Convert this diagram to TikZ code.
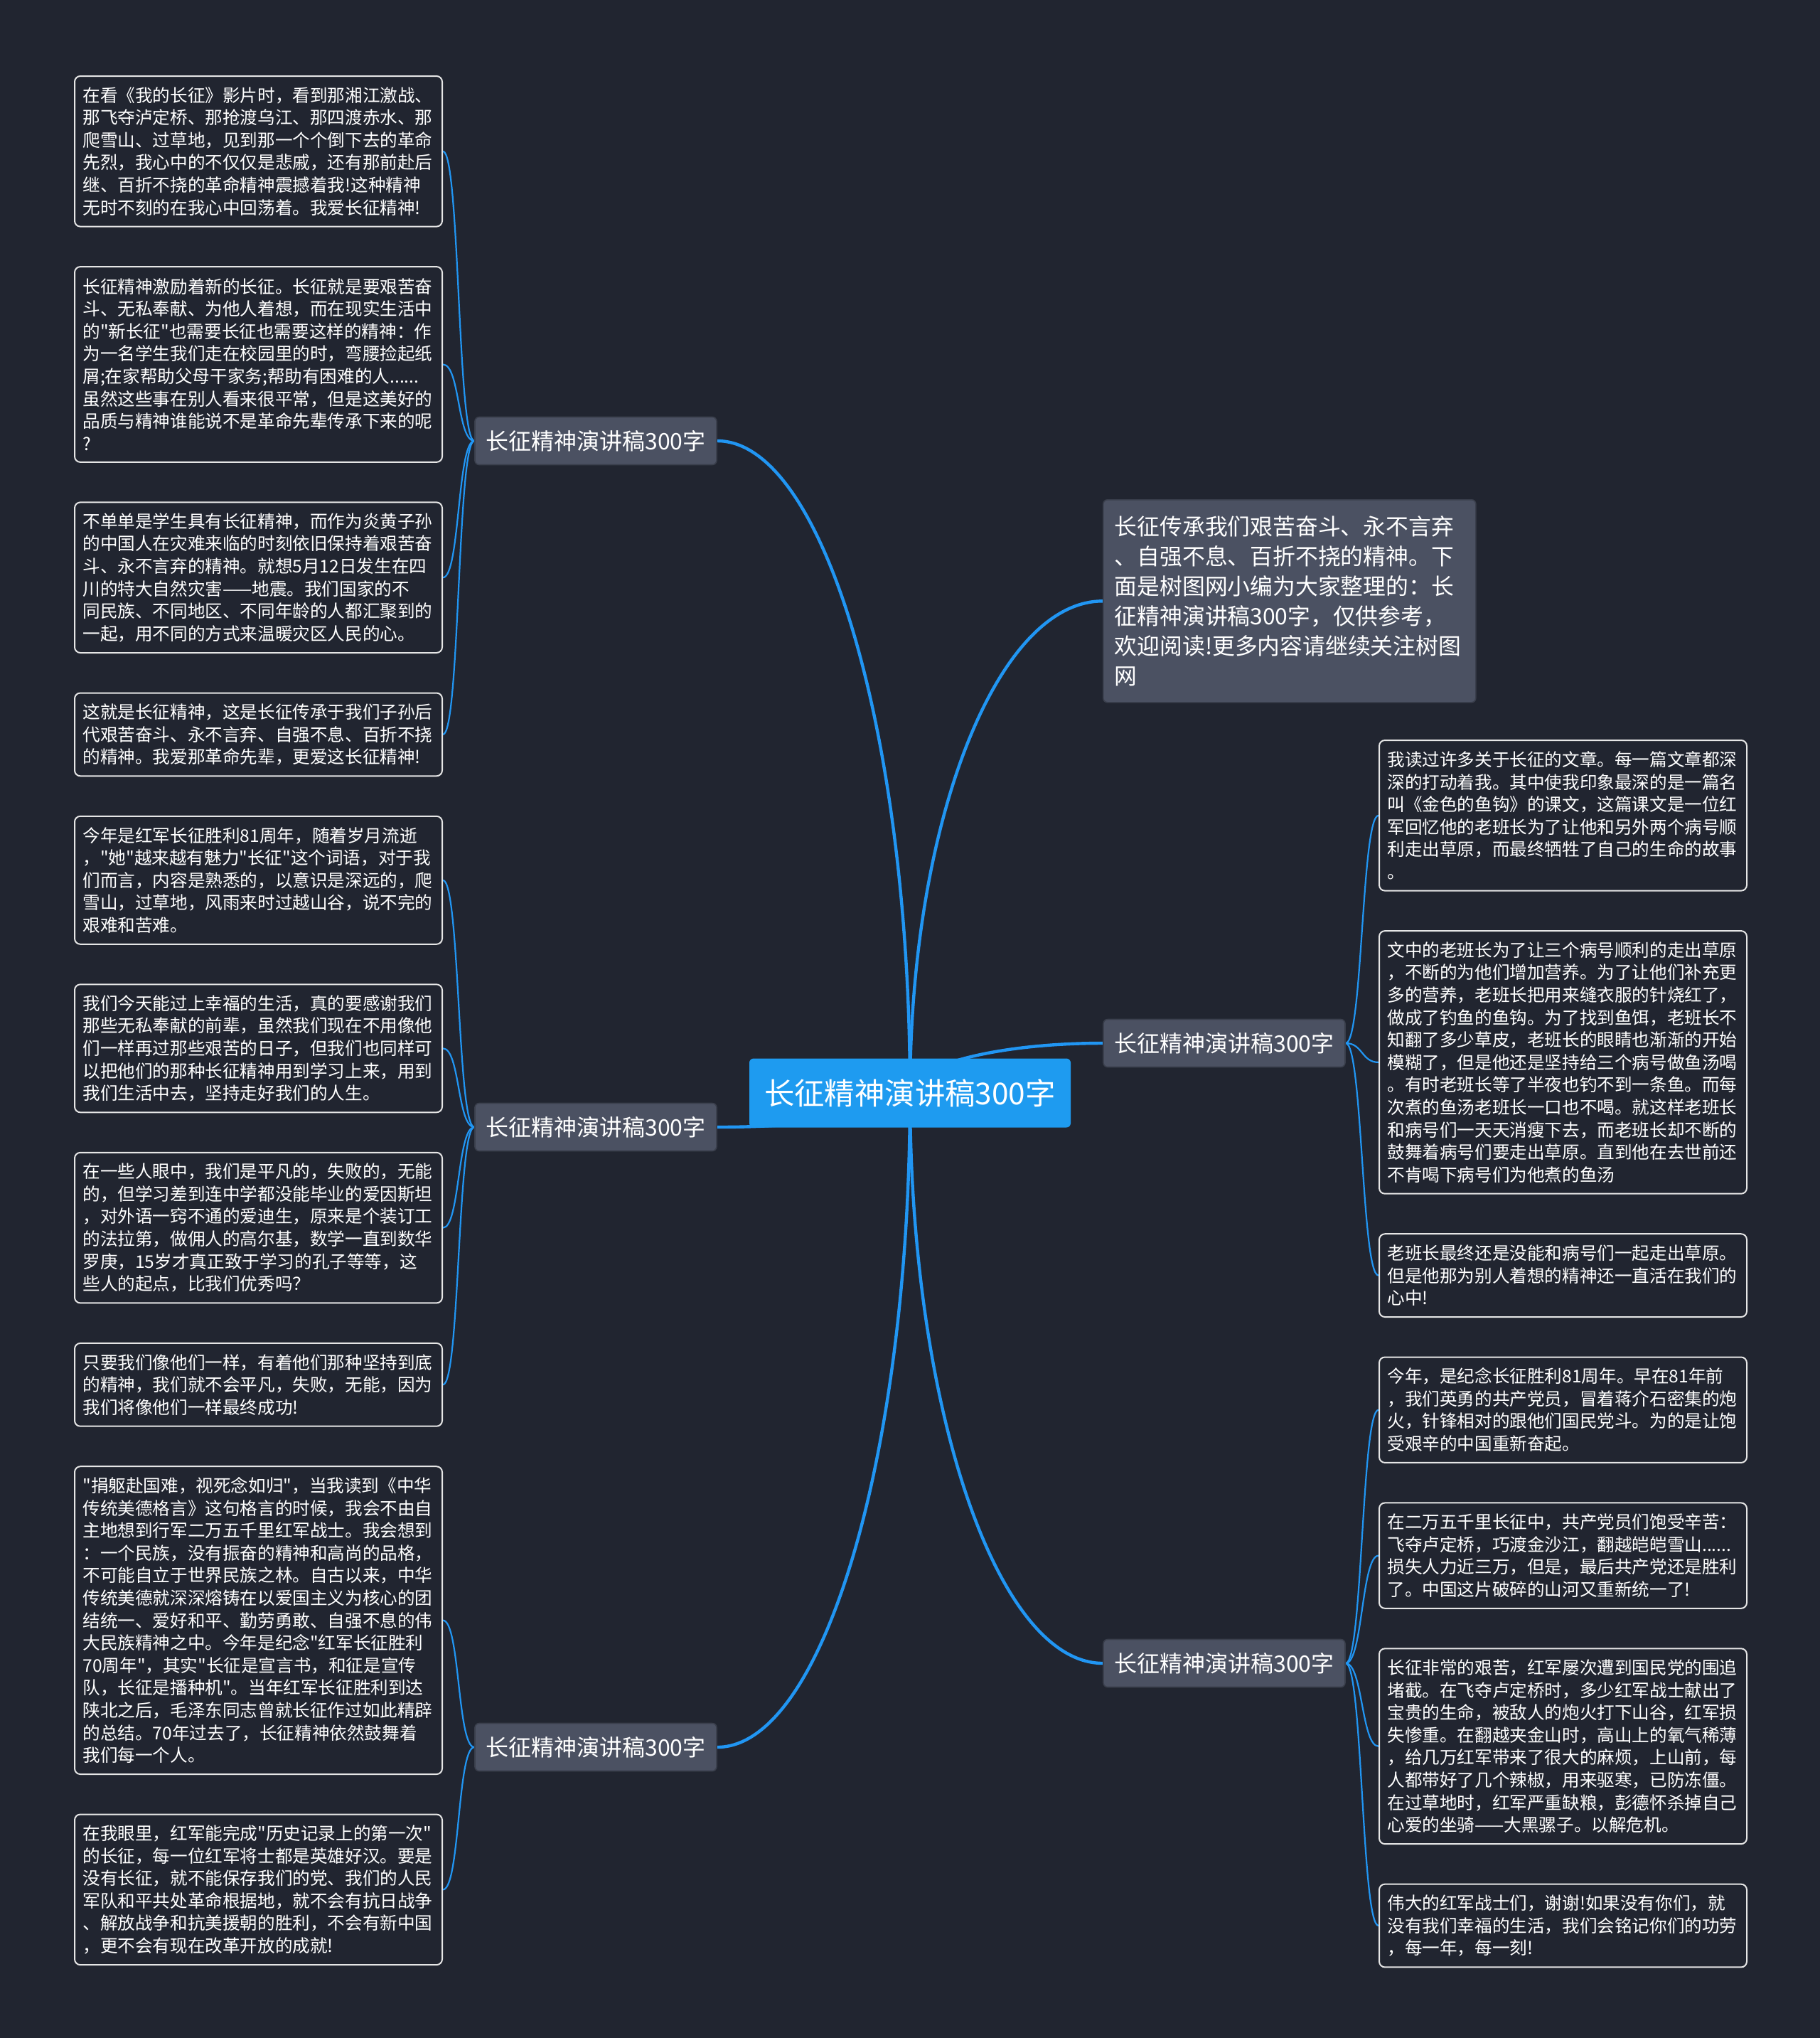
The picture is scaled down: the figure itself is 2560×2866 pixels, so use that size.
\documentclass[tikz,border=0pt]{standalone}
\usepackage{fontspec}
\setmainfont{Noto Sans CJK SC}[Ligatures=TeXOff]
\usetikzlibrary{positioning,calc}
\definecolor{canvasbg}{HTML}{212530}
\definecolor{linkblue}{HTML}{2196F3}
\definecolor{rootblue}{HTML}{1E9BF0}
\definecolor{branchgray}{HTML}{4B5162}
\definecolor{branchline}{HTML}{3A3F4C}
\definecolor{leafline}{HTML}{E6E6E6}
\pgfdeclarelayer{canvas}
\pgfdeclarelayer{links}
\pgfsetlayers{canvas,links,main}
\begin{document}
\begin{tikzpicture}[x=0.5pt,y=-0.5pt]
	\tikzset{rootnode/.style = {fill=rootblue,text=white,rounded corners=3pt,minimum width=226pt,minimum height=48.5pt,font=\fontsize{21.2pt}{26pt}\selectfont}}
	\tikzset{branch/.style = {fill=branchgray,draw=branchline,line width=0.8pt,text=white,rounded corners=3pt,minimum width=170pt,minimum height=33.5pt,font=\fontsize{16pt}{20pt}\selectfont}}
	\tikzset{infobox/.style = {fill=branchgray,draw=branchline,line width=0.8pt,text=white,rounded corners=3pt,align=left,text width=246pt,inner xsep=8pt,minimum height=142.5pt,anchor=north west,font=\fontsize{15.9pt}{21pt}\selectfont}}
	\tikzset{leafbox/.style = {draw=leafline,fill=canvasbg,line width=1pt,rounded corners=4pt,text=white,align=left,text width=247pt,inner xsep=5.75pt,inner ysep=2pt,minimum height=#1*15.8pt+11pt,font=\fontsize{12.3pt}{15.8pt}\selectfont}}
	\tikzset{mainlink/.style = {draw=linkblue,line width=2.2pt}}
	\tikzset{leaflink/.style = {draw=linkblue,line width=1.1pt}}
	\tikzset{rootcurve/.style = {to path={.. controls ($(\tikztostart)!.55!(\tikztostart |- \tikztotarget)$) and ($(\tikztotarget)!.55!(\tikztostart |- \tikztotarget)$) .. (\tikztotarget)}}}
	\tikzset{toleft/.style = {out=180,in=0,distance=12pt}}
	\tikzset{toright/.style = {out=0,in=180,distance=12pt}}
	\begin{pgfonlayer}{canvas}
		\fill[canvasbg] (0,0) rectangle (2560,2866);
	\end{pgfonlayer}
	\node[rootnode] (root) at (1280,1537) {长征精神演讲稿300字};
	\node[branch] (lb1) at (838,620) {长征精神演讲稿300字};
	\node[branch] (lb2) at (838,1585) {长征精神演讲稿300字};
	\node[branch] (lb3) at (838,2457) {长征精神演讲稿300字};
	\node[branch] (rb1) at (1722,1467) {长征精神演讲稿300字};
	\node[branch] (rb2) at (1722,2339) {长征精神演讲稿300字};
	\node[infobox] (info) at (1551,702) {长征传承我们艰苦奋斗、永不言弃\\、自强不息、百折不挠的精神。下\\面是树图网小编为大家整理的：长\\征精神演讲稿300字，仅供参考，\\欢迎阅读!更多内容请继续关注树图\\网};
	\node[leafbox=6,anchor=north west] (l1) at (104,106) {在看《我的长征》影片时，看到那湘江激战、\\那飞夺泸定桥、那抢渡乌江、那四渡赤水、那\\爬雪山、过草地，见到那一个个倒下去的革命\\先烈，我心中的不仅仅是悲戚，还有那前赴后\\继、百折不挠的革命精神震撼着我!这种精神\\无时不刻的在我心中回荡着。我爱长征精神!};
	\node[leafbox=8,below=27.25pt of l1] (l2) {长征精神激励着新的长征。长征就是要艰苦奋\\斗、无私奉献、为他人着想，而在现实生活中\\的"新长征"也需要长征也需要这样的精神：作\\为一名学生我们走在校园里的时，弯腰捡起纸\\屑;在家帮助父母干家务;帮助有困难的人......\\虽然这些事在别人看来很平常，但是这美好的\\品质与精神谁能说不是革命先辈传承下来的呢\\?};
	\node[leafbox=6,below=27.25pt of l2] (l3) {不单单是学生具有长征精神，而作为炎黄子孙\\的中国人在灾难来临的时刻依旧保持着艰苦奋\\斗、永不言弃的精神。就想5月12日发生在四\\川的特大自然灾害——地震。我们国家的不\\同民族、不同地区、不同年龄的人都汇聚到的\\一起，用不同的方式来温暖灾区人民的心。};
	\node[leafbox=3,below=27.25pt of l3] (l4) {这就是长征精神，这是长征传承于我们子孙后\\代艰苦奋斗、永不言弃、自强不息、百折不挠\\的精神。我爱那革命先辈，更爱这长征精神!};
	\node[leafbox=5,below=27.25pt of l4] (l5) {今年是红军长征胜利81周年，随着岁月流逝\\，"她"越来越有魅力"长征"这个词语，对于我\\们而言，内容是熟悉的，以意识是深远的，爬\\雪山，过草地，风雨来时过越山谷，说不完的\\艰难和苦难。};
	\node[leafbox=5,below=27.25pt of l5] (l6) {我们今天能过上幸福的生活，真的要感谢我们\\那些无私奉献的前辈，虽然我们现在不用像他\\们一样再过那些艰苦的日子，但我们也同样可\\以把他们的那种长征精神用到学习上来，用到\\我们生活中去，坚持走好我们的人生。};
	\node[leafbox=6,below=27.25pt of l6] (l7) {在一些人眼中，我们是平凡的，失败的，无能\\的，但学习差到连中学都没能毕业的爱因斯坦\\，对外语一窍不通的爱迪生，原来是个装订工\\的法拉第，做佣人的高尔基，数学一直到数华\\罗庚，15岁才真正致于学习的孔子等等，这\\些人的起点，比我们优秀吗？};
	\node[leafbox=3,below=27.25pt of l7] (l8) {只要我们像他们一样，有着他们那种坚持到底\\的精神，我们就不会平凡，失败，无能，因为\\我们将像他们一样最终成功!};
	\node[leafbox=13,below=27.25pt of l8] (l9) {"捐躯赴国难，视死念如归"，当我读到《中华\\传统美德格言》这句格言的时候，我会不由自\\主地想到行军二万五千里红军战士。我会想到\\：一个民族，没有振奋的精神和高尚的品格，\\不可能自立于世界民族之林。自古以来，中华\\传统美德就深深熔铸在以爱国主义为核心的团\\结统一、爱好和平、勤劳勇敢、自强不息的伟\\大民族精神之中。今年是纪念"红军长征胜利\\70周年"，其实"长征是宣言书，和征是宣传\\队，长征是播种机"。当年红军长征胜利到达\\陕北之后，毛泽东同志曾就长征作过如此精辟\\的总结。70年过去了，长征精神依然鼓舞着\\我们每一个人。};
	\node[leafbox=6,below=27.25pt of l9] (l10) {在我眼里，红军能完成"历史记录上的第一次"\\的长征，每一位红军将士都是英雄好汉。要是\\没有长征，就不能保存我们的党、我们的人民\\军队和平共处革命根据地，就不会有抗日战争\\、解放战争和抗美援朝的胜利，不会有新中国\\，更不会有现在改革开放的成就!};
	\node[leafbox=6,anchor=north west] (r1) at (1939,1040) {我读过许多关于长征的文章。每一篇文章都深\\深的打动着我。其中使我印象最深的是一篇名\\叫《金色的鱼钩》的课文，这篇课文是一位红\\军回忆他的老班长为了让他和另外两个病号顺\\利走出草原，而最终牺牲了自己的生命的故事\\。};
	\node[leafbox=11,below=27.25pt of r1] (r2) {文中的老班长为了让三个病号顺利的走出草原\\，不断的为他们增加营养。为了让他们补充更\\多的营养，老班长把用来缝衣服的针烧红了，\\做成了钓鱼的鱼钩。为了找到鱼饵，老班长不\\知翻了多少草皮，老班长的眼睛也渐渐的开始\\模糊了，但是他还是坚持给三个病号做鱼汤喝\\。有时老班长等了半夜也钓不到一条鱼。而每\\次煮的鱼汤老班长一口也不喝。就这样老班长\\和病号们一天天消瘦下去，而老班长却不断的\\鼓舞着病号们要走出草原。直到他在去世前还\\不肯喝下病号们为他煮的鱼汤};
	\node[leafbox=3,below=27.25pt of r2] (r3) {老班长最终还是没能和病号们一起走出草原。\\但是他那为别人着想的精神还一直活在我们的\\心中!};
	\node[leafbox=4,below=27.25pt of r3] (r4) {今年，是纪念长征胜利81周年。早在81年前\\，我们英勇的共产党员，冒着蒋介石密集的炮\\火，针锋相对的跟他们国民党斗。为的是让饱\\受艰辛的中国重新奋起。};
	\node[leafbox=4,below=27.25pt of r4] (r5) {在二万五千里长征中，共产党员们饱受辛苦：\\飞夺卢定桥，巧渡金沙江，翻越皑皑雪山......\\损失人力近三万，但是，最后共产党还是胜利\\了。中国这片破碎的山河又重新统一了!};
	\node[leafbox=8,below=27.25pt of r5] (r6) {长征非常的艰苦，红军屡次遭到国民党的围追\\堵截。在飞夺卢定桥时，多少红军战士献出了\\宝贵的生命，被敌人的炮火打下山谷，红军损\\失惨重。在翻越夹金山时，高山上的氧气稀薄\\，给几万红军带来了很大的麻烦，上山前，每\\人都带好了几个辣椒，用来驱寒，已防冻僵。\\在过草地时，红军严重缺粮，彭德怀杀掉自己\\心爱的坐骑——大黑骡子。以解危机。};
	\node[leafbox=3,below=27.25pt of r6] (r7) {伟大的红军战士们，谢谢!如果没有你们，就\\没有我们幸福的生活，我们会铭记你们的功劳\\，每一年，每一刻!};
	\begin{pgfonlayer}{links}
		\path[mainlink] (root.center) edge[rootcurve] (lb1.east) edge[rootcurve] (lb2.east) edge[rootcurve] (lb3.east);
		\path[mainlink] (root.center) edge[rootcurve] (info.west) edge[rootcurve] (rb1.west) edge[rootcurve] (rb2.west);
		\path[leaflink] (lb1.west) edge[toleft] (l1.east) edge[toleft] (l2.east) edge[toleft] (l3.east) edge[toleft] (l4.east);
		\path[leaflink] (lb2.west) edge[toleft] (l5.east) edge[toleft] (l6.east) edge[toleft] (l7.east) edge[toleft] (l8.east);
		\path[leaflink] (lb3.west) edge[toleft] (l9.east) edge[toleft] (l10.east);
		\path[leaflink] (rb1.east) edge[toright] (r1.west) edge[toright] (r2.west) edge[toright] (r3.west);
		\path[leaflink] (rb2.east) edge[toright] (r4.west) edge[toright] (r5.west) edge[toright] (r6.west) edge[toright] (r7.west);
	\end{pgfonlayer}
\end{tikzpicture}
\end{document}
